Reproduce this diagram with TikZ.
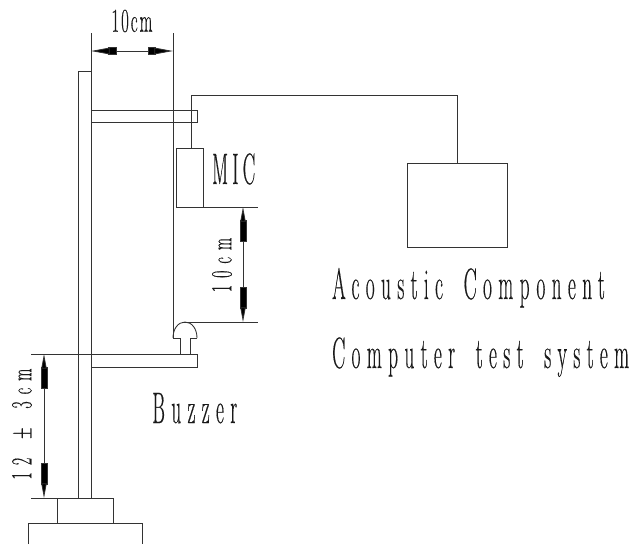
\documentclass[tikz,border=0pt]{standalone}
\usepackage{fontspec}
\usetikzlibrary{arrows.meta}
\newfontfamily\cadfont[FakeStretch=0.44,LetterSpace=14.5,WordSpace=1.7,FakeBold=0.3]{Latin Modern Roman}
\newfontfamily\cadmic[FakeStretch=0.42,LetterSpace=10,FakeBold=0.3]{Latin Modern Roman}
\newfontfamily\cadtight[FakeStretch=0.5,LetterSpace=6,FakeBold=0.3]{Latin Modern Roman}
\newfontfamily\cadrot[FakeStretch=0.54,LetterSpace=24,WordSpace=1.6,FakeBold=0.3]{Latin Modern Roman}
\tikzset{
  line/.style={draw=black!80,line width=0.65pt},
  dim/.style={draw=black!80,line width=0.6pt,
    {Triangle[length=14pt,width=5pt,fill=black]Rectangle[length=6pt,width=6pt,fill=black,sep=-1pt]}-{Rectangle[length=6pt,width=6pt,fill=black,sep=-1pt]Triangle[length=14pt,width=5pt,fill=black]}},
  dimv/.style={draw=black!80,line width=0.6pt,
    {Triangle[length=11pt,width=4pt,fill=black]Rectangle[length=16pt,width=5pt,fill=black,sep=-1pt]}-{Rectangle[length=16pt,width=5pt,fill=black,sep=-1pt]Triangle[length=11pt,width=4pt,fill=black]}},
  box/.style={draw=black!80,line width=0.65pt,fill=none,inner sep=0pt,anchor=north west},
  lab/.style={inner sep=0pt,text=black!90,anchor=base west,font=\cadfont\fontsize{33}{33}\selectfont},
  labm/.style={inner sep=0pt,text=black!90,anchor=base west,font=\cadmic\fontsize{33}{33}\selectfont},
  labs/.style={inner sep=0pt,text=black!90,font=\cadtight\fontsize{25}{25}\selectfont},
  labr/.style={inner sep=0pt,text=black!90,rotate=90,font=\cadrot\fontsize{22}{22}\selectfont}
}
\begin{document}
\begin{tikzpicture}[x=0.75pt,y=-0.75pt]
\useasboundingbox (0,0) rectangle (644,544);
% coordinates
\coordinate (pT) at (91,71);
\coordinate (pL) at (78,71);
\coordinate (pLb) at (78,498);
\coordinate (pRb) at (91,498);
\coordinate (eA) at (91,33);
\coordinate (eB) at (173,33);
\coordinate (eC) at (173,338);
\coordinate (dA) at (91,51);
\coordinate (dB) at (173,51);
% pole
\draw[line] (pT) -- (pL) -- (pLb);
\draw[line] (eA) -- (pRb);
\draw[line] (eB) -- (eC);
\draw[dim] (dA) -- (dB);
% upper arm
\coordinate (a1) at (91,110); \coordinate (a2) at (197,110);
\coordinate (a3) at (197,122); \coordinate (a4) at (91,122);
\draw[line] (a1) -- (a2) -- (a3) -- (a4);
% MIC and test system
\node[box,minimum width=27*0.75pt,minimum height=59*0.75pt] (mic) at (176,148) {};
\node[box,minimum width=100*0.75pt,minimum height=84*0.75pt] (sys) at (407,163) {};
\coordinate (w1) at (191,148); \coordinate (w2) at (191,95);
\coordinate (w3) at (457,95); \coordinate (w4) at (457,163);
\draw[line] (w1) -- (w2) -- (w3) -- (w4);
% level lines
\coordinate (m1) at (176,207); \coordinate (m2) at (258,207);
\draw[line] (m1) -- (m2);
\coordinate (b1) at (182,322); \coordinate (b2) at (258,322);
\draw[line] (b1) -- (b2);
\coordinate (v1) at (243,207); \coordinate (v2) at (243,322);
\draw[dimv] (v1) -- (v2);
% buzzer
\coordinate (dL) at (173,338); \coordinate (dR) at (197,338);
\coordinate (s1) at (180,338); \coordinate (s2) at (180,354);
\coordinate (s3) at (190,338); \coordinate (s4) at (190,354);
\draw[line] (dL) .. controls (173,329) and (178,322) .. (185,322) .. controls (192,322) and (197,329) .. (dR);
\draw[line] (dL) -- (s1) -- (s2);
\draw[line] (dR) -- (s3) -- (s4);
\coordinate (p1) at (31,354); \coordinate (p2) at (197,354);
\coordinate (p3) at (197,367); \coordinate (p4) at (91,367);
\draw[line] (p1) -- (p2) -- (p3) -- (p4);
\coordinate (h1) at (44,354); \coordinate (h2) at (44,498);
\draw[dimv] (h1) -- (h2);
% base
\coordinate (g1) at (31,498); \coordinate (g2) at (113,498);
\draw[line] (g1) -- (g2);
\coordinate (g3) at (57,498); \coordinate (g4) at (57,523);
\coordinate (g5) at (113,523);
\draw[line] (g3) -- (g4);
\draw[line] (g2) -- (g5);
\coordinate (f1) at (28,544); \coordinate (f2) at (28,523);
\coordinate (f3) at (142,523); \coordinate (f4) at (142,544);
\draw[line] (f1) -- (f2) -- (f3) -- (f4);
% labels
\node[labs] (t1) at (132,21) {10cm};
\node[labm] (t2) at (212,184) {MIC};
\node[labr] (t3) at (222,265) {10cm};
\node[lab] (t4) at (332,299) {Acoustic Component};
\node[lab] (t5) at (332,368) {Computer test system};
\node[lab] (t6) at (152,423) {Buzzer};
\node[labr] (t7) at (22,424) {12 ± 3cm};
\end{tikzpicture}
\end{document}
